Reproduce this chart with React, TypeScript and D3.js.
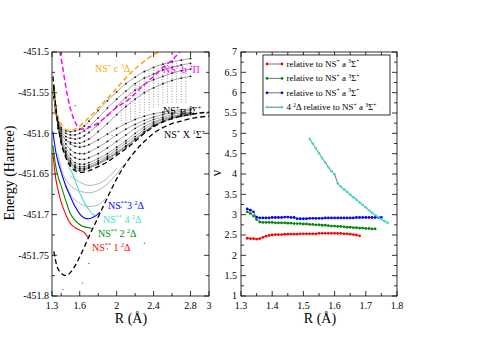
import React from 'react';
import * as d3 from 'd3';

const W = 478;
const H = 338;
const FONT = '"Liberation Serif", "Times New Roman", serif';

// ---- left panel: potential energy curves (R in Å, E in Hartree)
const stateX = [[1.32, -451.745], [1.35, -451.762], [1.4, -451.772], [1.45, -451.775], [1.5, -451.771], [1.6, -451.752], [1.7, -451.727], [1.8, -451.703], [1.9, -451.679], [2.0, -451.656], [2.1, -451.637], [2.2, -451.622], [2.3, -451.610], [2.4, -451.600], [2.5, -451.593], [2.6, -451.588], [2.7, -451.585], [2.8, -451.582], [2.9, -451.580], [3.0, -451.579]];
const stateA = [[1.31, -451.53], [1.33, -451.555], [1.36, -451.585], [1.4, -451.612], [1.45, -451.630], [1.5, -451.641], [1.55, -451.646], [1.6, -451.648], [1.7, -451.646], [1.8, -451.641], [1.9, -451.635], [2.0, -451.627], [2.1, -451.619], [2.2, -451.610], [2.3, -451.600], [2.4, -451.592], [2.5, -451.586], [2.6, -451.582], [2.7, -451.579], [2.8, -451.577], [2.9, -451.575], [3.0, -451.574]];
const stateC = [[1.31, -451.548], [1.34, -451.568], [1.38, -451.584], [1.42, -451.592], [1.47, -451.596], [1.52, -451.596], [1.58, -451.593], [1.65, -451.586], [1.75, -451.575], [1.85, -451.563], [1.95, -451.551], [2.05, -451.538], [2.15, -451.526], [2.25, -451.516], [2.35, -451.507], [2.47, -451.499]];
const stateB = [[1.385, -451.499], [1.42, -451.522], [1.45, -451.543], [1.5, -451.570], [1.55, -451.586], [1.6, -451.594], [1.65, -451.595], [1.7, -451.593], [1.8, -451.587], [1.9, -451.578], [2.0, -451.568], [2.1, -451.561], [2.2, -451.551], [2.3, -451.540], [2.4, -451.530], [2.5, -451.519], [2.6, -451.510], [2.69, -451.499]];

const dication1 = [[1.31, -451.625], [1.34, -451.655], [1.37, -451.672], [1.4, -451.685], [1.45, -451.700], [1.5, -451.711], [1.55, -451.716], [1.6, -451.719], [1.65, -451.722], [1.69, -451.728]];
const dication2 = [[1.31, -451.615], [1.34, -451.640], [1.37, -451.655], [1.4, -451.665], [1.45, -451.683], [1.5, -451.699], [1.55, -451.707], [1.6, -451.712], [1.65, -451.715], [1.7, -451.716], [1.73, -451.717]];
const dication3 = [[1.31, -451.598], [1.34, -451.622], [1.37, -451.637], [1.4, -451.648], [1.45, -451.665], [1.5, -451.678], [1.55, -451.690], [1.6, -451.699], [1.65, -451.704], [1.7, -451.705], [1.75, -451.703], [1.8, -451.699], [1.82, -451.697]];
const dication4 = [[1.48, -451.641], [1.52, -451.649], [1.56, -451.661], [1.6, -451.673], [1.65, -451.685], [1.7, -451.694], [1.75, -451.700], [1.77, -451.701]];

// grey Rydberg-like curves on a common R grid
const rydbergR = [1.32, 1.34, 1.37, 1.4, 1.45, 1.5, 1.55, 1.6, 1.65, 1.7, 1.8, 1.9, 2.0, 2.1, 2.2, 2.3, 2.4, 2.5, 2.6, 2.7, 2.8];
const rydberg0a = [-451.542, -451.566, -451.594, -451.611, -451.628, -451.639, -451.644, -451.646, -451.645, -451.643, -451.638, -451.632, -451.625, -451.617, -451.608, -451.599, -451.591, -451.586, -451.582, -451.579, -451.577];
const rydberg0b = [-451.544, -451.567, -451.594, -451.611, -451.627, -451.637, -451.642, -451.644, -451.644, -451.642, -451.637, -451.631, -451.624, -451.616, -451.607, -451.598, -451.590, -451.585, -451.581, -451.578, -451.576];
const rydberg1 = [-451.545, -451.568, -451.594, -451.610, -451.626, -451.636, -451.641, -451.643, -451.643, -451.641, -451.636, -451.630, -451.623, -451.615, -451.607, -451.598, -451.590, -451.585, -451.581, -451.578, -451.576];
const rydberg1b = [-451.547, -451.569, -451.594, -451.609, -451.624, -451.634, -451.639, -451.641, -451.641, -451.639, -451.634, -451.628, -451.620, -451.612, -451.604, -451.595, -451.588, -451.583, -451.580, -451.577, -451.575];
const rydberg2 = [-451.548, -451.570, -451.594, -451.608, -451.622, -451.631, -451.636, -451.638, -451.638, -451.636, -451.631, -451.625, -451.617, -451.609, -451.600, -451.592, -451.586, -451.582, -451.579, -451.577, -451.575];
const rydberg3 = [-451.550, -451.572, -451.593, -451.606, -451.618, -451.626, -451.630, -451.632, -451.632, -451.630, -451.625, -451.618, -451.610, -451.602, -451.594, -451.588, -451.583, -451.580, -451.577, -451.575, -451.574];
const rydberg4 = [-451.552, -451.573, -451.592, -451.603, -451.613, -451.620, -451.624, -451.625, -451.625, -451.623, -451.617, -451.610, -451.602, -451.595, -451.589, -451.584, -451.580, -451.577, -451.575, -451.573, -451.572];
const rydberg5 = [-451.553, -451.573, -451.590, -451.600, -451.608, -451.613, -451.616, -451.617, -451.616, -451.614, -451.608, -451.601, -451.594, -451.588, -451.583, -451.579, -451.576, -451.574, -451.572, -451.571, -451.570];
const rydberg6 = [-451.553, -451.572, -451.590, -451.600, -451.608, -451.611, -451.612, -451.612, -451.610, -451.607, -451.598, -451.588, -451.577, -451.567, -451.558, -451.550, -451.544, -451.539, -451.535, -451.532, -451.530];
const rydberg7 = [-451.554, -451.572, -451.588, -451.597, -451.604, -451.606, -451.607, -451.606, -451.603, -451.599, -451.589, -451.578, -451.567, -451.556, -451.547, -451.540, -451.534, -451.530, -451.526, -451.523, -451.521];
const rydberg8 = [-451.555, -451.572, -451.587, -451.595, -451.600, -451.602, -451.602, -451.600, -451.597, -451.592, -451.581, -451.569, -451.558, -451.548, -451.539, -451.532, -451.527, -451.522, -451.519, -451.516, -451.514];
const rydberg9 = [-451.556, -451.572, -451.586, -451.593, -451.597, -451.598, -451.597, -451.595, -451.591, -451.585, -451.572, -451.560, -451.549, -451.539, -451.531, -451.524, -451.519, -451.515, -451.512, -451.510, -451.508];
const rydbergSets = [rydberg0a, rydberg0b, rydberg1, rydberg1b, rydberg2, rydberg3, rydberg4, rydberg5, rydberg6, rydberg7, rydberg8, rydberg9];

const lowGrey1 = [[1.36, -451.625], [1.42, -451.650], [1.5, -451.664], [1.6, -451.671], [1.7, -451.673], [1.8, -451.670], [1.9, -451.662], [2.0, -451.650], [2.08, -451.638]];
const lowGrey2 = [[1.42, -451.655], [1.5, -451.675], [1.6, -451.686], [1.7, -451.690], [1.8, -451.688], [1.88, -451.680]];
const lowGrey3 = [[1.5, -451.652], [1.6, -451.660], [1.7, -451.664], [1.8, -451.662], [1.9, -451.655], [2.0, -451.643]];

// dotted columns of computed points: [R, Elow, Ehigh]
const dotColumns = [[2.05, -451.585, -451.562], [2.1, -451.584, -451.555], [2.15, -451.583, -451.548], [2.2, -451.580, -451.540], [2.25, -451.578, -451.533], [2.3, -451.575, -451.527], [2.35, -451.572, -451.522], [2.4, -451.568, -451.518], [2.45, -451.565, -451.515], [2.5, -451.563, -451.513], [2.55, -451.562, -451.511], [2.6, -451.562, -451.510], [2.65, -451.562, -451.512], [2.7, -451.562, -451.515], [2.75, -451.562, -451.518]];
const strayDots = [[1.42, -451.792], [1.63, -451.784], [1.9, -451.742], [2.3, -451.735], [1.78, -451.591], [1.95, -451.603], [1.55, -451.566], [2.05, -451.691], [1.7, -451.760]];

// ---- right panel: nu vs R
const seriesRed = [[1.32, 2.42], [1.33, 2.41], [1.34, 2.41], [1.35, 2.40], [1.36, 2.41], [1.37, 2.44], [1.38, 2.47], [1.39, 2.49], [1.40, 2.50], [1.41, 2.51], [1.42, 2.51], [1.43, 2.51], [1.44, 2.52], [1.45, 2.52], [1.46, 2.52], [1.47, 2.52], [1.48, 2.52], [1.49, 2.53], [1.50, 2.53], [1.51, 2.53], [1.52, 2.53], [1.53, 2.53], [1.54, 2.53], [1.55, 2.54], [1.56, 2.54], [1.57, 2.54], [1.58, 2.54], [1.59, 2.54], [1.60, 2.54], [1.61, 2.54], [1.62, 2.54], [1.63, 2.53], [1.64, 2.53], [1.65, 2.52], [1.66, 2.51], [1.67, 2.50], [1.68, 2.48]];
const seriesGreen = [[1.32, 3.07], [1.33, 3.03], [1.34, 2.97], [1.35, 2.88], [1.36, 2.82], [1.37, 2.81], [1.38, 2.81], [1.39, 2.81], [1.40, 2.81], [1.41, 2.80], [1.42, 2.80], [1.43, 2.80], [1.44, 2.80], [1.45, 2.79], [1.46, 2.79], [1.47, 2.78], [1.48, 2.78], [1.49, 2.78], [1.50, 2.77], [1.51, 2.77], [1.52, 2.76], [1.53, 2.76], [1.54, 2.75], [1.55, 2.75], [1.56, 2.74], [1.57, 2.74], [1.58, 2.73], [1.59, 2.72], [1.60, 2.72], [1.61, 2.71], [1.62, 2.71], [1.63, 2.70], [1.64, 2.69], [1.65, 2.69], [1.66, 2.68], [1.67, 2.68], [1.68, 2.67], [1.69, 2.67], [1.70, 2.66], [1.71, 2.66], [1.72, 2.65], [1.73, 2.65]];
const seriesBlue = [[1.32, 3.14], [1.33, 3.11], [1.34, 3.07], [1.35, 2.94], [1.36, 2.92], [1.37, 2.92], [1.38, 2.92], [1.39, 2.92], [1.40, 2.93], [1.41, 2.93], [1.42, 2.93], [1.43, 2.93], [1.44, 2.94], [1.45, 2.94], [1.46, 2.93], [1.47, 2.93], [1.48, 2.90], [1.49, 2.90], [1.50, 2.90], [1.51, 2.90], [1.52, 2.91], [1.53, 2.91], [1.54, 2.91], [1.55, 2.91], [1.56, 2.91], [1.57, 2.92], [1.58, 2.92], [1.59, 2.92], [1.60, 2.92], [1.61, 2.92], [1.62, 2.92], [1.63, 2.92], [1.64, 2.92], [1.65, 2.92], [1.66, 2.92], [1.67, 2.93], [1.68, 2.93], [1.69, 2.93], [1.70, 2.93], [1.71, 2.93], [1.72, 2.93], [1.73, 2.93], [1.74, 2.93], [1.75, 2.93]];
const seriesCyan = [[1.52, 4.86], [1.53, 4.75], [1.54, 4.63], [1.55, 4.51], [1.56, 4.39], [1.57, 4.28], [1.58, 4.17], [1.59, 4.07], [1.60, 3.99], [1.61, 3.77], [1.62, 3.69], [1.63, 3.62], [1.64, 3.56], [1.65, 3.49], [1.66, 3.43], [1.67, 3.37], [1.68, 3.30], [1.69, 3.24], [1.70, 3.18], [1.71, 3.11], [1.72, 3.05], [1.73, 2.99], [1.74, 2.94], [1.75, 2.89], [1.76, 2.84], [1.77, 2.80]];

// ticks
const leftYTicks = [-451.8, -451.75, -451.7, -451.65, -451.6, -451.55, -451.5];
const leftYMinor = [-451.775, -451.725, -451.675, -451.625, -451.575, -451.525];
const leftXTicks = [1.3, 1.6, 2, 2.4, 2.8, 3];
const leftXMinor = [1.4, 1.8, 2.2, 2.6];
const rightYTicks = [1, 1.5, 2, 2.5, 3, 3.5, 4, 4.5, 5, 5.5, 6, 6.5, 7];
const rightYMinor = [1.25, 1.75, 2.25, 2.75, 3.25, 3.75, 4.25, 4.75, 5.25, 5.75, 6.25, 6.75];
const rightXTicks = [1.3, 1.4, 1.5, 1.6, 1.7, 1.8];
const rightXMinor = [1.35, 1.45, 1.55, 1.65, 1.75];

const C_ORANGE = '#ffa500';
const C_MAGENTA = '#ff00ff';
const C_RED = '#ff0000';
const C_GREEN = '#008b00';
const C_BLUE = '#0000ff';
const C_TURQ = '#40e0d0';

const xL = d3.scaleLinear().domain([1.3, 3]).range([52, 209]);
const yL = d3.scaleLinear().domain([-451.8, -451.5]).range([296, 52]);
const xR = d3.scaleLinear().domain([1.3, 1.8]).range([241, 397]);
const yR = d3.scaleLinear().domain([1, 7]).range([296, 52]);

const lineL = d3.line<number[]>().x(d => xL(d[0])).y(d => yL(d[1])).curve(d3.curveMonotoneX);
const lineR = d3.line<number[]>().x(d => xR(d[0])).y(d => yR(d[1]));

type Part = string | { sup: string };

function Rich({ x, y, parts, fill = '#000', size = 10 }: { x: number; y: number; parts: Part[]; fill?: string; size?: number }) {
  let raised = false;
  return (
    <text x={x} y={y} fill={fill} fontSize={size} fontFamily={FONT}>
      {parts.map((p, i) => {
        if (typeof p === 'string') {
          const dy = raised ? size * 0.4 : 0;
          raised = false;
          return <tspan key={i} dy={dy}>{p}</tspan>;
        }
        const dy = raised ? 0 : -size * 0.4;
        raised = true;
        return <tspan key={i} dy={dy} fontSize={size * 0.62}>{p.sup}</tspan>;
      })}
    </text>
  );
}

function Frame({ x0, x1, y0, y1, xt, xm, yt, ym, sx, sy }: any) {
  const out: JSX.Element[] = [];
  xt.forEach((v: number, i: number) => {
    const x = sx(v);
    out.push(<line key={'xb' + i} x1={x} x2={x} y1={y1} y2={y1 - 5} />);
    out.push(<line key={'xt' + i} x1={x} x2={x} y1={y0} y2={y0 + 5} />);
  });
  xm.forEach((v: number, i: number) => {
    const x = sx(v);
    out.push(<line key={'xbm' + i} x1={x} x2={x} y1={y1} y2={y1 - 3} />);
    out.push(<line key={'xtm' + i} x1={x} x2={x} y1={y0} y2={y0 + 3} />);
  });
  yt.forEach((v: number, i: number) => {
    const y = sy(v);
    out.push(<line key={'yl' + i} x1={x0} x2={x0 + 5} y1={y} y2={y} />);
    out.push(<line key={'yr' + i} x1={x1} x2={x1 - 5} y1={y} y2={y} />);
  });
  ym.forEach((v: number, i: number) => {
    const y = sy(v);
    out.push(<line key={'ylm' + i} x1={x0} x2={x0 + 3} y1={y} y2={y} />);
    out.push(<line key={'yrm' + i} x1={x1} x2={x1 - 3} y1={y} y2={y} />);
  });
  return (
    <g stroke="#000" strokeWidth={0.8} fill="none">
      {out}
      <rect x={x0} y={y0} width={x1 - x0} height={y1 - y0} />
    </g>
  );
}

const legendItems = [
  { color: C_RED, parts: ['relative to NS', { sup: '+' }, ' a ', { sup: '3' }, 'Σ', { sup: '+' }] as Part[] },
  { color: C_GREEN, parts: ['relative to NS', { sup: '+' }, ' a ', { sup: '3' }, 'Σ', { sup: '+' }] as Part[] },
  { color: C_BLUE, parts: ['relative to NS', { sup: '+' }, ' a ', { sup: '3' }, 'Σ', { sup: '+' }] as Part[] },
  { color: C_TURQ, parts: ['4 ', { sup: '2' }, 'Δ relative to NS', { sup: '+' }, ' a ', { sup: '3' }, 'Σ', { sup: '+' }] as Part[] },
];

export default function App() {
  const rightSeries = [
    { data: seriesRed, color: C_RED },
    { data: seriesGreen, color: C_GREEN },
    { data: seriesBlue, color: C_BLUE },
    { data: seriesCyan, color: C_TURQ },
  ];
  return (
    <svg width={W} height={H} style={{ position: 'absolute', left: 0, top: 0, background: '#fff' }} fontFamily={FONT}>
      <defs>
        <clipPath id="clipL"><rect x={52} y={52} width={157} height={244} /></clipPath>
      </defs>

      {/* left panel */}
      <g clipPath="url(#clipL)">
        {dotColumns.map((c, i) => (
          <line key={'dc' + i} x1={xL(c[0])} x2={xL(c[0])} y1={yL(c[1])} y2={yL(c[2])} stroke="#666" strokeWidth={0.8} strokeDasharray="0.8 1.8" />
        ))}
        {rydbergSets.map((vals, k) => {
          const pts = rydbergR.map((r, i) => [r, vals[i]]);
          return (
            <g key={'ry' + k}>
              <path d={lineL(pts) || ''} fill="none" stroke="#5a5a5a" strokeWidth={0.55} />
              {pts.map((p, i) => <circle key={i} cx={xL(p[0])} cy={yL(p[1])} r={0.9} fill="#111" />)}
            </g>
          );
        })}
        {[lowGrey1, lowGrey2, lowGrey3].map((pts, k) => (
          <path key={'lg' + k} d={lineL(pts) || ''} fill="none" stroke="#777" strokeWidth={0.55} />
        ))}
        {strayDots.map((p, i) => <circle key={'sd' + i} cx={xL(p[0])} cy={yL(p[1])} r={0.6} fill="#444" />)}

        <path d={lineL(stateC) || ''} fill="none" stroke={C_ORANGE} strokeWidth={1.5} strokeDasharray="5 3" />
        <path d={lineL(stateB) || ''} fill="none" stroke={C_MAGENTA} strokeWidth={1.5} strokeDasharray="5 3" />
        <path d={lineL(stateA) || ''} fill="none" stroke="#000" strokeWidth={1.3} strokeDasharray="5 3" />
        <path d={lineL(stateX) || ''} fill="none" stroke="#000" strokeWidth={1.3} strokeDasharray="5 3" />

        <path d={lineL(dication1) || ''} fill="none" stroke={C_RED} strokeWidth={1.1} />
        <path d={lineL(dication2) || ''} fill="none" stroke={C_GREEN} strokeWidth={1.1} />
        <path d={lineL(dication4) || ''} fill="none" stroke={C_TURQ} strokeWidth={1.1} />
        <path d={lineL(dication3) || ''} fill="none" stroke={C_BLUE} strokeWidth={1.1} />
      </g>

      <Rich x={95} y={72} fill={C_ORANGE} parts={['NS', { sup: '+' }, ' c ', { sup: '3' }, 'Δ']} />
      <Rich x={163} y={73} fill={C_MAGENTA} parts={['NS', { sup: '+' }, ' b ', { sup: '3' }, 'Π']} />
      <Rich x={163} y={114} parts={['NS', { sup: '+' }, ' a ', { sup: '3' }, 'Σ', { sup: '+' }]} />
      <Rich x={164} y={138} parts={['NS', { sup: '+' }, ' X ', { sup: '1' }, 'Σ', { sup: '±' }]} />
      <Rich x={108} y={209} fill={C_BLUE} parts={['NS', { sup: '**' }, '3 ', { sup: '2' }, 'Δ']} />
      <Rich x={103} y={223} fill={C_TURQ} parts={['NS', { sup: '**' }, ' 4 ', { sup: '2' }, 'Δ']} />
      <Rich x={98} y={237} fill={C_GREEN} parts={['NS', { sup: '**' }, ' 2 ', { sup: '2' }, 'Δ']} />
      <Rich x={92} y={251} fill={C_RED} parts={['NS', { sup: '**' }, ' 1 ', { sup: '2' }, 'Δ']} />

      <Frame x0={52} x1={209} y0={52} y1={296} xt={leftXTicks} xm={leftXMinor} yt={leftYTicks} ym={leftYMinor} sx={xL} sy={yL} />
      <g fontSize={10} fill="#000">
        {leftYTicks.map((v, i) => (
          <text key={'ly' + i} x={49} y={yL(v) + 3.3} textAnchor="end">{String(v)}</text>
        ))}
        {leftXTicks.map((v, i) => (
          <text key={'lx' + i} x={xL(v)} y={308.5} textAnchor="middle">{String(v)}</text>
        ))}
      </g>
      <text x={14} y={173} fontSize={14} textAnchor="middle" transform="rotate(-90 14 173)">Energy (Hartree)</text>
      <text x={131} y={323} fontSize={14} textAnchor="middle">R (Å)</text>

      {/* right panel */}
      {rightSeries.map((s, k) => (
        <g key={'rs' + k}>
          <path d={lineR(s.data) || ''} fill="none" stroke="#333" strokeWidth={0.7} />
          {s.data.map((p, i) => <circle key={i} cx={xR(p[0])} cy={yR(p[1])} r={1.4} fill={s.color} />)}
        </g>
      ))}
      <Frame x0={241} x1={397} y0={52} y1={296} xt={rightXTicks} xm={rightXMinor} yt={rightYTicks} ym={rightYMinor} sx={xR} sy={yR} />
      <g fontSize={10} fill="#000">
        {rightYTicks.map((v, i) => (
          <text key={'ry' + i} x={237} y={yR(v) + (v === 1 ? 2.5 : 3.3)} textAnchor="end">{String(v)}</text>
        ))}
        {rightXTicks.map((v, i) => (
          <text key={'rx' + i} x={xR(v)} y={308.5} textAnchor="middle">{String(v)}</text>
        ))}
      </g>
      <text x={221} y={173} fontSize={14} textAnchor="middle" transform="rotate(-90 221 173)">ν</text>
      <text x={320} y={323} fontSize={14} textAnchor="middle">R (Å)</text>

      {/* legend */}
      <rect x={263} y={55} width={127} height={60} fill="#fff" stroke="#000" strokeWidth={0.8} />
      {legendItems.map((it, i) => {
        const y = 64 + i * 14.4;
        return (
          <g key={'lg' + i}>
            <line x1={267} x2={282} y1={y} y2={y} stroke="#333" strokeWidth={0.7} />
            <circle cx={267} cy={y} r={1.4} fill={it.color} />
            <circle cx={282} cy={y} r={1.4} fill={it.color} />
            <Rich x={286.5} y={y + 3} size={9} parts={it.parts} />
          </g>
        );
      })}
    </svg>
  );
}
